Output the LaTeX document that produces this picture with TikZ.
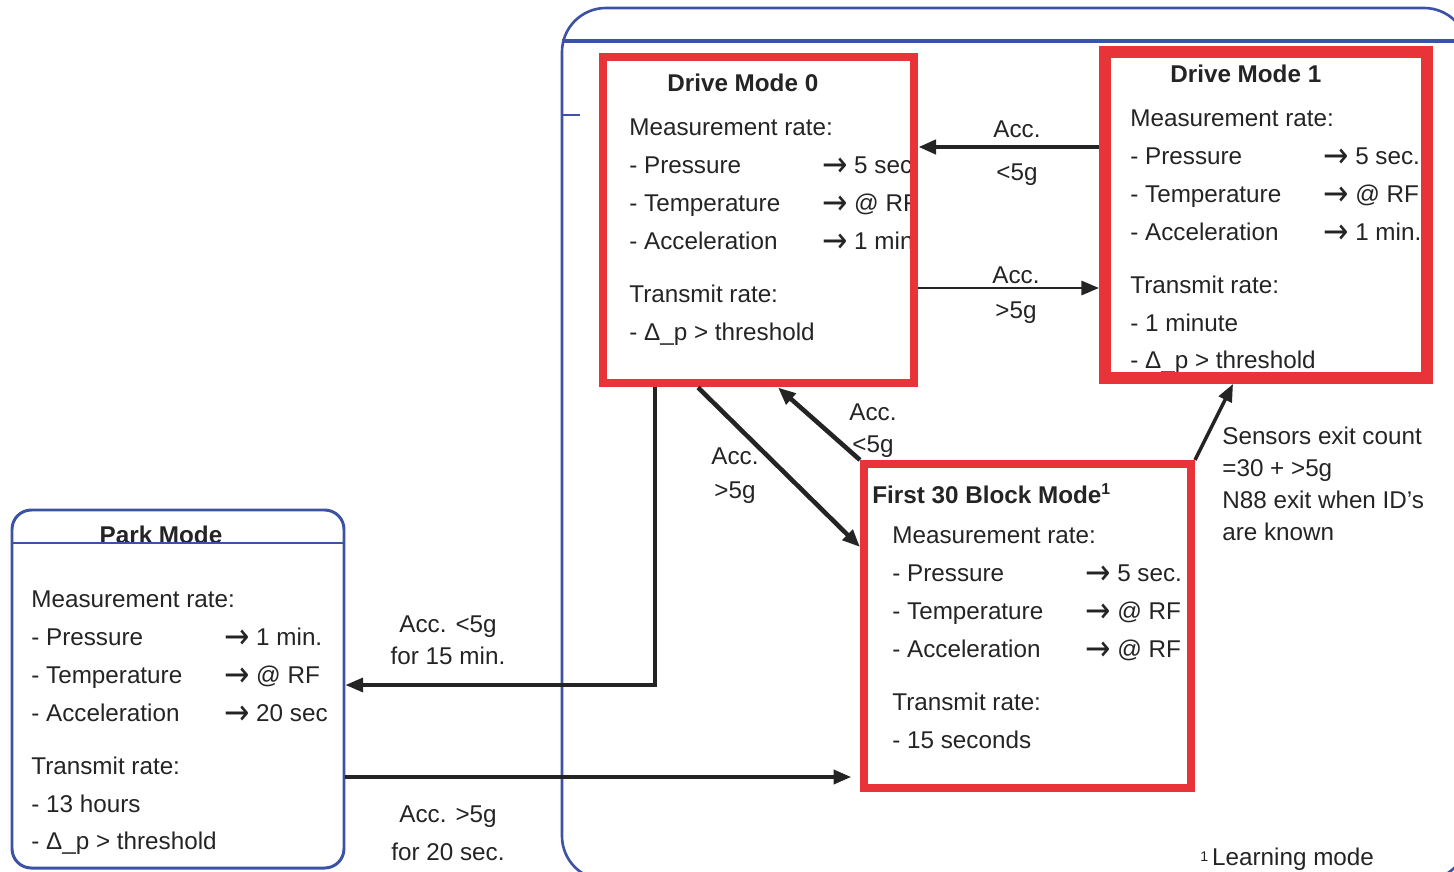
\documentclass[tikz,border=0pt]{standalone}
\usepackage{fontspec}
\setmainfont{Liberation Sans}
\newfontfamily\arrowfont{DejaVu Sans}
\usetikzlibrary{arrows.meta,positioning,fit,calc}
\definecolor{modered}{RGB}{232,52,56}
\definecolor{frameblue}{RGB}{60,82,164}
\definecolor{inkgray}{RGB}{36,36,36}
\newcommand{\modefont}{\fontsize{13.8pt}{21.6pt}\selectfont}
\newcommand{\notefont}{\fontsize{13.8pt}{18.2pt}\selectfont}
\newcommand{\rateline}[2]{\makebox[109.8pt][l]{- #1}\makebox[18.2pt][l]{\smash{\raisebox{-2pt}{\scalebox{1.25}[1.45]{\arrowfont →}}}}#2}

\begin{document}
\begin{tikzpicture}[
    x=0.02cm, y=-0.02cm,
    body/.style={font=\modefont, align=left, inner sep=0pt, anchor=north west, text=inkgray},
    title/.style={font=\modefont\bfseries, inner sep=0pt, anchor=base west, text=inkgray},
    lbl/.style={font=\notefont, align=center, inner sep=0pt, anchor=north, text=inkgray},
    modebox/.style={draw=modered, line width=#1, inner sep=0pt},
    parkbox/.style={draw=frameblue, line width=1.7pt, rounded corners=11pt, inner sep=0pt},
    conn/.style={draw=inkgray, line width=#1, -{Triangle[length=10pt,width=8pt]}}
]
\useasboundingbox (0,0) rectangle (1454,872);

% Outer frame (cut by the page edge)
\begin{scope}
\clip (0,0) rectangle (1454,872);
\draw[frameblue, line width=1.5pt, rounded corners=25pt] (562,8) rectangle (1468,880);
\draw[frameblue, line width=1.8pt] (562,41) -- (1454,41);
\draw[frameblue, line width=1pt] (562,115) -- (580,115);
\end{scope}

% Drive Mode 0
\node[title] (dmzerohead) at (667,91) {Drive Mode 0};
\node[body] (dmzerotxt) at (629,108.4) {\strut Measurement rate:\\
  \rateline{Pressure}{5 sec.}\\
  \rateline{Temperature}{@ RF}\\
  \rateline{Acceleration}{1 min.}\\[8.5pt]
  Transmit rate:\\
  - Δ\_p > threshold};

% Drive Mode 1
\node[title] (dmonehead) at (1170,82) {Drive Mode 1};
\node[body] (dmonetxt) at (1130,99.4) {\strut Measurement rate:\\
  \rateline{Pressure}{5 sec.}\\
  \rateline{Temperature}{@ RF}\\
  \rateline{Acceleration}{1 min.}\\[8.5pt]
  Transmit rate:\\
  - 1 minute\\
  - Δ\_p > threshold};

% First 30 Block Mode
\node[title] (blockhead) at (872,503) {First 30 Block Mode{\fontsize{9pt}{9pt}\selectfont\raisebox{5pt}{1}}};
\node[body] (blocktxt) at (892,516.4) {\strut Measurement rate:\\
  \rateline{Pressure}{5 sec.}\\
  \rateline{Temperature}{@ RF}\\
  \rateline{Acceleration}{@ RF}\\[8.5pt]
  Transmit rate:\\
  - 15 seconds};

% Park Mode
\node[font=\modefont\bfseries, inner sep=0pt, anchor=base, text=inkgray] (parkhead) at (161,543) {Park Mode};
\node[body] (parktxt) at (31,580.4) {\strut Measurement rate:\\
  \rateline{Pressure}{1 min.}\\
  \rateline{Temperature}{@ RF}\\
  \rateline{Acceleration}{20 sec}\\[8.5pt]
  Transmit rate:\\
  - 13 hours\\
  - Δ\_p > threshold};

% Boxes on top of the text
\node[modebox=5.1pt, fit={(603,57) (914,383)}] (dmzero) {};
\node[modebox=6.8pt, fit={(1105,52) (1427,378)}] (dmone) {};
\node[modebox=4.6pt, fit={(864,464) (1191,788)}] (block) {};
\node[parkbox, fit={(12,510) (344,868)}] (park) {};
\draw[frameblue, line width=1.7pt] (park.west |- 0,543) -- (park.east |- 0,543);

% Transitions
\draw[conn=2.3pt] (dmone.west |- 0,147) -- (dmzero.east |- 0,147);
\draw[conn=1.6pt] (dmzero.east |- 0,288) -- (dmone.west |- 0,288);
\draw[conn=1.8pt] (dmzero.south -| 655,0) |- (park.east |- 0,685);
\draw[conn=2pt, shorten >=5pt] (park.east |- 0,777) -- (block.west |- 0,777);
\draw[conn=2.6pt] (dmzero.south -| 698,0) -- (block.west |- 0,547);
\draw[conn=2.6pt] (block.north west) -- (dmzero.south -| 778,0);
\draw[conn=2pt] (block.north east) -- (dmone.south -| 1233,0);

% Transition labels
\node[lbl] (lblback) at (1017,114.6) {\strut Acc.\\[6.3pt] <5g};
\node[lbl] (lblfwd) at (1016,260.6) {\strut Acc.\\[1.7pt] >5g};
\node[lbl] (lblret) at (873,397.6) {\strut Acc.\\ <5g};
\node[lbl] (lblenter) at (735,441.6) {\strut Acc.\\[1.1pt] >5g};
\node[lbl] (lblpark) at (448,609.6) {\strut Acc. <5g\\ for 15 min.};
\node[lbl] (lblwake) at (448,799.6) {\strut Acc. >5g\\[3.4pt] for 20 sec.};
\node[font=\notefont, align=left, inner sep=0pt, anchor=north west, text=inkgray] (exitnote) at (1222,421.6)
  {\strut Sensors exit count\\ =30 + >5g\\ N88 exit when ID’s\\ are known};
\node[font=\modefont, inner sep=0pt, anchor=base west, text=inkgray] (footnote) at (1200,865)
  {{\fontsize{8pt}{8pt}\selectfont\raisebox{2pt}{1}}\,Learning mode};
\end{tikzpicture}
\end{document}
